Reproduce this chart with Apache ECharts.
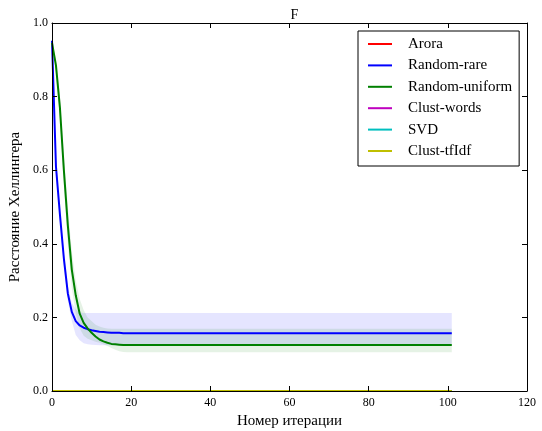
<!DOCTYPE html>
<html>
<head>
<meta charset="utf-8">
<script src="https://cdn.jsdelivr.net/npm/echarts@6/dist/echarts.min.js"></script>
<style>
  html, body { margin: 0; padding: 0; background: #fff; }
  #chart { width: 542px; height: 431px; }
</style>
</head>
<body>
<div id="chart"></div>
<script>
// Iteration numbers along the x axis
const iterations = [
  0,1,2,3,4,5,6,7,8,9,10,11,12,13,14,15,16,17,18,19,
  20,21,22,23,24,25,26,27,28,29,30,31,32,33,34,35,36,37,38,39,
  40,41,42,43,44,45,46,47,48,49,50,51,52,53,54,55,56,57,58,59,
  60,61,62,63,64,65,66,67,68,69,70,71,72,73,74,75,76,77,78,79,
  80,81,82,83,84,85,86,87,88,89,90,91,92,93,94,95,96,97,98,99,
  100,101
];

// Methods whose distance stays at zero
const arora = [
  0,0,0,0,0,0,0,0,0,0,0,0,0,0,0,0,0,0,0,0,0,0,0,0,0,0,0,0,0,0,0,0,0,0,
  0,0,0,0,0,0,0,0,0,0,0,0,0,0,0,0,0,0,0,0,0,0,0,0,0,0,0,0,0,0,0,0,0,0,
  0,0,0,0,0,0,0,0,0,0,0,0,0,0,0,0,0,0,0,0,0,0,0,0,0,0,0,0,0,0,0,0,0,0
];
const clustWords = [
  0,0,0,0,0,0,0,0,0,0,0,0,0,0,0,0,0,0,0,0,0,0,0,0,0,0,0,0,0,0,0,0,0,0,
  0,0,0,0,0,0,0,0,0,0,0,0,0,0,0,0,0,0,0,0,0,0,0,0,0,0,0,0,0,0,0,0,0,0,
  0,0,0,0,0,0,0,0,0,0,0,0,0,0,0,0,0,0,0,0,0,0,0,0,0,0,0,0,0,0,0,0,0,0
];
const svd = [
  0,0,0,0,0,0,0,0,0,0,0,0,0,0,0,0,0,0,0,0,0,0,0,0,0,0,0,0,0,0,0,0,0,0,
  0,0,0,0,0,0,0,0,0,0,0,0,0,0,0,0,0,0,0,0,0,0,0,0,0,0,0,0,0,0,0,0,0,0,
  0,0,0,0,0,0,0,0,0,0,0,0,0,0,0,0,0,0,0,0,0,0,0,0,0,0,0,0,0,0,0,0,0,0
];
const clustTfIdf = [
  0,0,0,0,0,0,0,0,0,0,0,0,0,0,0,0,0,0,0,0,0,0,0,0,0,0,0,0,0,0,0,0,0,0,
  0,0,0,0,0,0,0,0,0,0,0,0,0,0,0,0,0,0,0,0,0,0,0,0,0,0,0,0,0,0,0,0,0,0,
  0,0,0,0,0,0,0,0,0,0,0,0,0,0,0,0,0,0,0,0,0,0,0,0,0,0,0,0,0,0,0,0,0,0
];

// Random-rare: mean and spread bounds
const randomRare = [
  0.952,0.61,0.48,0.36,0.265,0.215,0.19,0.178,0.172,0.168,
  0.165,0.163,0.161,0.160,0.159,0.158,0.158,0.158,0.157,0.157,
  0.157,0.157,0.157,0.157,0.157,0.157,0.157,0.157,0.157,0.157,
  0.157,0.157,0.157,0.157,0.157,0.157,0.157,0.157,0.157,0.157,
  0.157,0.157,0.157,0.157,0.157,0.157,0.157,0.157,0.157,0.157,
  0.157,0.157,0.157,0.157,0.157,0.157,0.157,0.157,0.157,0.157,
  0.157,0.157,0.157,0.157,0.157,0.157,0.157,0.157,0.157,0.157,
  0.157,0.157,0.157,0.157,0.157,0.157,0.157,0.157,0.157,0.157,
  0.157,0.157,0.157,0.157,0.157,0.157,0.157,0.157,0.157,0.157,
  0.157,0.157,0.157,0.157,0.157,0.157,0.157,0.157,0.157,0.157,
  0.157,0.157
];
const randomRareLow = [
  0.948,0.59,0.46,0.34,0.245,0.19,0.152,0.138,0.130,0.127,
  0.126,0.125,0.124,0.124,0.124,0.124,0.124,0.124,0.124,0.124,
  0.124,0.124,0.124,0.124,0.124,0.124,0.124,0.124,0.124,0.124,
  0.124,0.124,0.124,0.124,0.124,0.124,0.124,0.124,0.124,0.124,
  0.124,0.124,0.124,0.124,0.124,0.124,0.124,0.124,0.124,0.124,
  0.124,0.124,0.124,0.124,0.124,0.124,0.124,0.124,0.124,0.124,
  0.124,0.124,0.124,0.124,0.124,0.124,0.124,0.124,0.124,0.124,
  0.124,0.124,0.124,0.124,0.124,0.124,0.124,0.124,0.124,0.124,
  0.124,0.124,0.124,0.124,0.124,0.124,0.124,0.124,0.124,0.124,
  0.124,0.124,0.124,0.124,0.124,0.124,0.124,0.124,0.124,0.124,
  0.124,0.124
];
const randomRareHigh = [
  0.955,0.63,0.495,0.375,0.285,0.24,0.222,0.214,0.212,0.212,
  0.212,0.212,0.212,0.212,0.212,0.212,0.212,0.212,0.212,0.212,
  0.212,0.212,0.212,0.212,0.212,0.212,0.212,0.212,0.212,0.212,
  0.212,0.212,0.212,0.212,0.212,0.212,0.212,0.212,0.212,0.212,
  0.212,0.212,0.212,0.212,0.212,0.212,0.212,0.212,0.212,0.212,
  0.212,0.212,0.212,0.212,0.212,0.212,0.212,0.212,0.212,0.212,
  0.212,0.212,0.212,0.212,0.212,0.212,0.212,0.212,0.212,0.212,
  0.212,0.212,0.212,0.212,0.212,0.212,0.212,0.212,0.212,0.212,
  0.212,0.212,0.212,0.212,0.212,0.212,0.212,0.212,0.212,0.212,
  0.212,0.212,0.212,0.212,0.212,0.212,0.212,0.212,0.212,0.212,
  0.212,0.212
];

// Random-uniform: mean and spread bounds
const randomUniform = [
  0.946,0.885,0.77,0.60,0.45,0.33,0.26,0.21,0.185,0.17,
  0.158,0.148,0.140,0.135,0.131,0.128,0.127,0.126,0.125,0.125,
  0.125,0.125,0.125,0.125,0.125,0.125,0.125,0.125,0.125,0.125,
  0.125,0.125,0.125,0.125,0.125,0.125,0.125,0.125,0.125,0.125,
  0.125,0.125,0.125,0.125,0.125,0.125,0.125,0.125,0.125,0.125,
  0.125,0.125,0.125,0.125,0.125,0.125,0.125,0.125,0.125,0.125,
  0.125,0.125,0.125,0.125,0.125,0.125,0.125,0.125,0.125,0.125,
  0.125,0.125,0.125,0.125,0.125,0.125,0.125,0.125,0.125,0.125,
  0.125,0.125,0.125,0.125,0.125,0.125,0.125,0.125,0.125,0.125,
  0.125,0.125,0.125,0.125,0.125,0.125,0.125,0.125,0.125,0.125,
  0.125,0.125
];
const randomUniformLow = [
  0.942,0.865,0.74,0.56,0.40,0.28,0.21,0.17,0.15,0.142,
  0.138,0.134,0.131,0.127,0.122,0.117,0.112,0.108,0.106,0.105,
  0.105,0.105,0.105,0.105,0.105,0.105,0.105,0.105,0.105,0.105,
  0.105,0.105,0.105,0.105,0.105,0.105,0.105,0.105,0.105,0.105,
  0.105,0.105,0.105,0.105,0.105,0.105,0.105,0.105,0.105,0.105,
  0.105,0.105,0.105,0.105,0.105,0.105,0.105,0.105,0.105,0.105,
  0.105,0.105,0.105,0.105,0.105,0.105,0.105,0.105,0.105,0.105,
  0.105,0.105,0.105,0.105,0.105,0.105,0.105,0.105,0.105,0.105,
  0.105,0.105,0.105,0.105,0.105,0.105,0.105,0.105,0.105,0.105,
  0.105,0.105,0.105,0.105,0.105,0.105,0.105,0.105,0.105,0.105,
  0.105,0.105
];
const randomUniformHigh = [
  0.95,0.90,0.80,0.64,0.50,0.38,0.30,0.25,0.22,0.20,
  0.19,0.18,0.175,0.172,0.17,0.169,0.169,0.169,0.169,0.169,
  0.169,0.169,0.169,0.169,0.169,0.169,0.169,0.169,0.169,0.169,
  0.169,0.169,0.169,0.169,0.169,0.169,0.169,0.169,0.169,0.169,
  0.169,0.169,0.169,0.169,0.169,0.169,0.169,0.169,0.169,0.169,
  0.169,0.169,0.169,0.169,0.169,0.169,0.169,0.169,0.169,0.169,
  0.169,0.169,0.169,0.169,0.169,0.169,0.169,0.169,0.169,0.169,
  0.169,0.169,0.169,0.169,0.169,0.169,0.169,0.169,0.169,0.169,
  0.169,0.169,0.169,0.169,0.169,0.169,0.169,0.169,0.169,0.169,
  0.169,0.169,0.169,0.169,0.169,0.169,0.169,0.169,0.169,0.169,
  0.169,0.169
];

const xTicks = [0, 20, 40, 60, 80, 100, 120];
const yTicks = [0.0, 0.2, 0.4, 0.6, 0.8, 1.0];

const FONT = 'Liberation Serif';

function pairs(values) {
  return iterations.map((x, i) => [x, values[i]]);
}

function lineSeries(name, values, color, extra) {
  return Object.assign({
    name: name,
    type: 'line',
    data: pairs(values),
    symbol: 'none',
    z: 3,
    lineStyle: { color: color, width: 2 },
    itemStyle: { color: color },
    emphasis: { disabled: true },
    animation: false
  }, extra || {});
}

// Shaded spread between a low and a high bound, drawn as one polygon
function bandSeries(low, high, fill) {
  const rows = iterations.map((x, i) => [x, low[i], high[i]]);
  return {
    type: 'custom',
    silent: true,
    z: 1,
    data: [0],
    clip: true,
    renderItem: function (params, api) {
      const upper = rows.map(r => api.coord([r[0], r[2]]));
      const lower = rows.map(r => api.coord([r[0], r[1]])).reverse();
      return {
        type: 'polygon',
        shape: { points: upper.concat(lower) },
        style: { fill: fill, stroke: null }
      };
    },
    animation: false
  };
}

const zeroExtra = { clip: false, z: 3 };

const option = {
  backgroundColor: '#fff',
  animation: false,
  title: {
    text: 'F', left: 289.5, top: 3, textAlign: 'center',
    textStyle: { fontFamily: FONT, fontSize: 14, fontWeight: 'normal', color: '#000' }
  },
  grid: { left: 52, right: 15, top: 23, bottom: 40, containLabel: false, outerBoundsMode: 'none' },
  legend: {
    data: ['Arora', 'Random-rare', 'Random-uniform', 'Clust-words', 'SVD', 'Clust-tfIdf'],
    orient: 'vertical',
    left: 358, top: 31,
    padding: [5, 7, 7, 10],
    itemGap: 5.4,
    itemWidth: 24, itemHeight: 2,
    icon: 'rect',
    borderColor: '#000', borderWidth: 1,
    backgroundColor: '#fff',
    textStyle: { fontFamily: FONT, fontSize: 15, color: '#000', lineHeight: 16, padding: [0, 0, 0, 11] },
    selectedMode: false
  },
  xAxis: [
    {
      type: 'value', min: 0, max: 120, interval: 20, z: 5,
      name: 'Номер итерации', nameLocation: 'middle', nameGap: 21,
      nameTextStyle: { fontFamily: FONT, fontSize: 15, color: '#000' },
      axisLine: { show: true, onZero: false, lineStyle: { color: '#000', width: 1 } },
      axisTick: { show: true, inside: true, length: 5, lineStyle: { color: '#000' } },
      axisLabel: {
        fontFamily: FONT, fontSize: 12, color: '#000', margin: 6,
        formatter: v => xTicks.includes(v) ? String(v) : ''
      },
      splitLine: { show: false }
    },
    {
      type: 'value', position: 'top', min: 0, max: 120, interval: 20, z: 5,
      axisLine: { show: true, onZero: false, lineStyle: { color: '#000', width: 1 } },
      axisTick: { show: true, inside: true, length: 5, lineStyle: { color: '#000' } },
      axisLabel: { show: false },
      splitLine: { show: false }
    }
  ],
  yAxis: [
    {
      type: 'value', min: 0, max: 1, interval: 0.2, z: 5,
      name: 'Расстояние Хеллингера', nameLocation: 'middle', nameGap: 25,
      nameTextStyle: { fontFamily: FONT, fontSize: 15, color: '#000' },
      axisLine: { show: true, onZero: false, lineStyle: { color: '#000', width: 1 } },
      axisTick: { show: true, inside: true, length: 5, lineStyle: { color: '#000' } },
      axisLabel: {
        fontFamily: FONT, fontSize: 12, color: '#000', margin: 4,
        formatter: v => {
          const t = yTicks.find(k => Math.abs(k - v) < 1e-9);
          return t === undefined ? '' : t.toFixed(1);
        }
      },
      splitLine: { show: false }
    },
    {
      type: 'value', position: 'right', min: 0, max: 1, interval: 0.2, z: 5,
      axisLine: { show: true, onZero: false, lineStyle: { color: '#000', width: 1 } },
      axisTick: { show: true, inside: true, length: 5, lineStyle: { color: '#000' } },
      axisLabel: { show: false },
      splitLine: { show: false }
    }
  ],
  series: [
    bandSeries(randomRareLow, randomRareHigh, 'rgba(0,0,255,0.1)'),
    bandSeries(randomUniformLow, randomUniformHigh, 'rgba(0,128,0,0.1)'),
    lineSeries('Arora', arora, '#ff0000', zeroExtra),
    lineSeries('Random-rare', randomRare, '#0000ff'),
    lineSeries('Random-uniform', randomUniform, '#008000'),
    lineSeries('Clust-words', clustWords, '#bf00bf', zeroExtra),
    lineSeries('SVD', svd, '#00bfbf', zeroExtra),
    lineSeries('Clust-tfIdf', clustTfIdf, '#bfbf00', zeroExtra)
  ]
};

const chart = echarts.init(document.getElementById('chart'), null, { renderer: 'canvas' });
chart.setOption(option);
</script>
</body>
</html>
